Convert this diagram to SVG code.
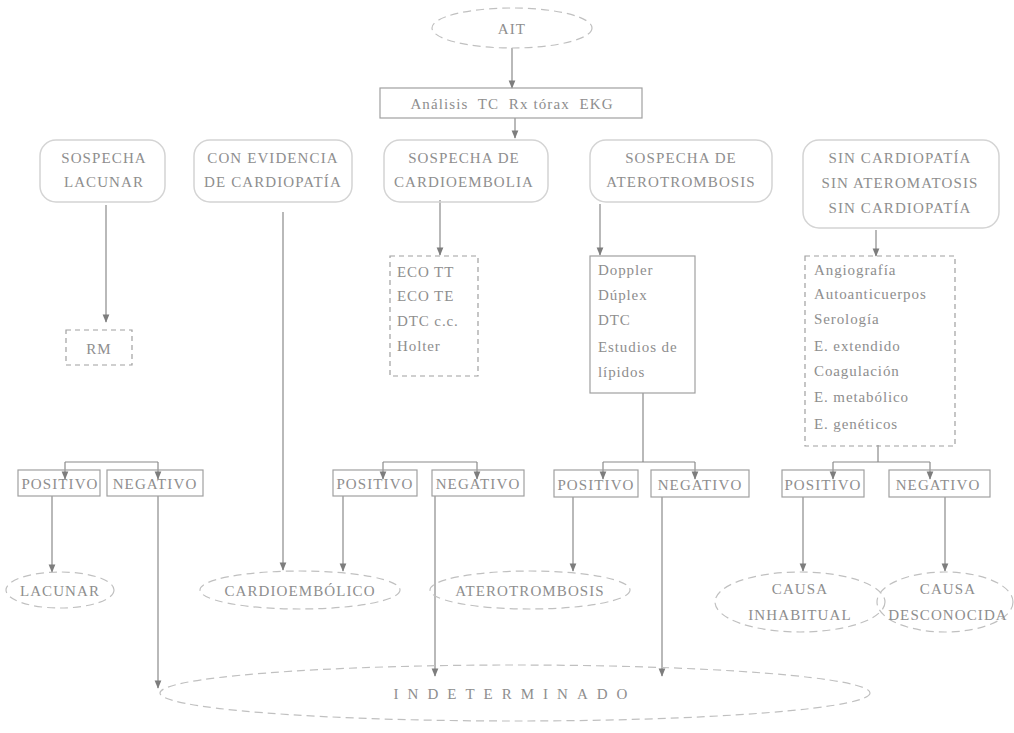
<svg xmlns="http://www.w3.org/2000/svg" width="1014" height="733" viewBox="0 0 1014 733">
  <defs>
    <marker id="arr" viewBox="0 0 10 10" refX="9" refY="5" markerWidth="7" markerHeight="7" orient="auto">
      <path d="M0,1 L10,5 L0,9 Z" fill="#7d7d7d"/>
    </marker>
    <style>
      text { font-family: "Liberation Serif", "Times New Roman", serif; fill: #8e8e8e; }
      .cap { font-size: 15px; letter-spacing: 1.1px; text-anchor: middle; }
      .lst { font-size: 15px; letter-spacing: 0.9px; }
      .box { fill: none; stroke: #a0a0a0; stroke-width: 1.2; }
      .dash { fill: none; stroke: #a0a0a0; stroke-width: 1.2; stroke-dasharray: 5 4; }
      .soft { fill: none; stroke: #d4d4d4; stroke-width: 1.5; }
      .oval { fill: none; stroke: #c0c0c0; stroke-width: 1.2; stroke-dasharray: 8 5; }
      .ln { fill: none; stroke: #8a8a8a; stroke-width: 1.2; }
      .arr { marker-end: url(#arr); }
    </style>
  </defs>
  <rect width="1014" height="733" fill="#ffffff"/>

  <!-- connectors -->
  <g id="connectors">
    <line class="ln arr" x1="512" y1="48" x2="512" y2="88"/>
    <line class="ln arr" x1="515" y1="118" x2="515" y2="138"/>
    <!-- lacunar column -->
    <line class="ln arr" x1="106" y1="205" x2="106" y2="322"/>
    <polyline class="ln" points="65,462 158,462"/>
    <line class="ln arr" x1="65" y1="462" x2="65" y2="479"/>
    <line class="ln arr" x1="158" y1="462" x2="158" y2="479"/>
    <line class="ln arr" x1="52" y1="496" x2="52" y2="572"/>
    <line class="ln arr" x1="158" y1="496" x2="158" y2="688"/>
    <!-- cardiopathy column -->
    <line class="ln arr" x1="283" y1="212" x2="283" y2="570"/>
    <!-- cardioembolism column -->
    <line class="ln arr" x1="440" y1="200" x2="440" y2="255"/>
    <polyline class="ln" points="383,462 477,462"/>
    <line class="ln arr" x1="383" y1="462" x2="383" y2="479"/>
    <line class="ln arr" x1="477" y1="462" x2="477" y2="479"/>
    <line class="ln arr" x1="343" y1="496" x2="343" y2="571"/>
    <line class="ln arr" x1="435" y1="496" x2="435" y2="676"/>
    <!-- atherothrombosis column -->
    <line class="ln arr" x1="600" y1="204" x2="600" y2="255"/>
    <polyline class="ln" points="643,393 643,462"/>
    <polyline class="ln" points="603,462 695,462"/>
    <line class="ln arr" x1="603" y1="462" x2="603" y2="479"/>
    <line class="ln arr" x1="695" y1="462" x2="695" y2="479"/>
    <line class="ln arr" x1="573" y1="497" x2="573" y2="571"/>
    <line class="ln arr" x1="662" y1="497" x2="662" y2="676"/>
    <!-- unusual-cause column -->
    <line class="ln arr" x1="876" y1="230" x2="876" y2="256"/>
    <polyline class="ln" points="878,445 878,462"/>
    <polyline class="ln" points="833,462 930,462"/>
    <line class="ln arr" x1="833" y1="462" x2="833" y2="479"/>
    <line class="ln arr" x1="930" y1="462" x2="930" y2="479"/>
    <line class="ln arr" x1="803" y1="497" x2="803" y2="571"/>
    <line class="ln arr" x1="945" y1="497" x2="945" y2="571"/>
  </g>

  <g id="ait">
    <ellipse class="oval" cx="512" cy="28" rx="80" ry="20"/>
    <text class="cap" x="512" y="34">AIT</text>
  </g>
  <g id="estudios">
    <rect class="box" x="380" y="88" width="262" height="30"/>
    <text class="cap" x="512" y="109" xml:space="preserve">Análisis  TC  Rx tórax  EKG</text>
  </g>

  <g id="sospecha-lacunar">
    <rect class="soft" x="40" y="140" width="125" height="62" rx="16"/>
    <text class="cap" x="104" y="163">SOSPECHA</text>
    <text class="cap" x="104" y="187">LACUNAR</text>
  </g>
  <g id="evidencia-cardiopatia">
    <rect class="soft" x="194" y="140" width="158" height="62" rx="16"/>
    <text class="cap" x="273" y="163">CON EVIDENCIA</text>
    <text class="cap" x="273" y="187">DE CARDIOPATÍA</text>
  </g>
  <g id="sospecha-cardioembolia">
    <rect class="soft" x="384" y="140" width="164" height="62" rx="16"/>
    <text class="cap" x="464" y="163">SOSPECHA DE</text>
    <text class="cap" x="464" y="187">CARDIOEMBOLIA</text>
  </g>
  <g id="sospecha-aterotrombosis">
    <rect class="soft" x="590" y="140" width="182" height="62" rx="16"/>
    <text class="cap" x="681" y="163">SOSPECHA DE</text>
    <text class="cap" x="681" y="187">ATEROTROMBOSIS</text>
  </g>
  <g id="sin-cardiopatia">
    <rect class="soft" x="803" y="140" width="196" height="88" rx="16"/>
    <text class="cap" x="900" y="163">SIN CARDIOPATÍA</text>
    <text class="cap" x="900" y="188">SIN ATEROMATOSIS</text>
    <text class="cap" x="900" y="213">SIN CARDIOPATÍA</text>
  </g>

  <g id="rm">
    <rect class="dash" x="66" y="330" width="66" height="35"/>
    <text class="cap" x="99" y="354">RM</text>
  </g>
  <g id="eco">
    <rect class="dash" x="390" y="256" width="88" height="120"/>
    <text class="lst" x="397" y="277">ECO TT</text>
    <text class="lst" x="397" y="301">ECO TE</text>
    <text class="lst" x="397" y="326">DTC c.c.</text>
    <text class="lst" x="397" y="351">Holter</text>
  </g>
  <g id="doppler">
    <rect class="box" x="590" y="256" width="105" height="137"/>
    <text class="lst" x="598" y="275">Doppler</text>
    <text class="lst" x="598" y="300">Dúplex</text>
    <text class="lst" x="598" y="325">DTC</text>
    <text class="lst" x="598" y="352">Estudios de</text>
    <text class="lst" x="598" y="377">lípidos</text>
  </g>
  <g id="angiografia">
    <rect class="dash" x="805" y="256" width="150" height="190"/>
    <text class="lst" x="814" y="275">Angiografía</text>
    <text class="lst" x="814" y="299">Autoanticuerpos</text>
    <text class="lst" x="814" y="324">Serología</text>
    <text class="lst" x="814" y="351">E. extendido</text>
    <text class="lst" x="814" y="376">Coagulación</text>
    <text class="lst" x="814" y="402">E. metabólico</text>
    <text class="lst" x="814" y="429">E. genéticos</text>
  </g>

  <g id="lac-positivo">
    <rect class="box" x="18" y="470" width="82" height="26"/>
    <text class="cap" x="60" y="489">POSITIVO</text>
  </g>
  <g id="lac-negativo">
    <rect class="box" x="107" y="470" width="96" height="26"/>
    <text class="cap" x="155" y="489">NEGATIVO</text>
  </g>
  <g id="card-positivo">
    <rect class="box" x="333" y="470" width="84" height="26"/>
    <text class="cap" x="375" y="489">POSITIVO</text>
  </g>
  <g id="card-negativo">
    <rect class="box" x="432" y="470" width="92" height="26"/>
    <text class="cap" x="478" y="489">NEGATIVO</text>
  </g>
  <g id="ater-positivo">
    <rect class="box" x="554" y="470" width="84" height="27"/>
    <text class="cap" x="596" y="490">POSITIVO</text>
  </g>
  <g id="ater-negativo">
    <rect class="box" x="651" y="470" width="98" height="27"/>
    <text class="cap" x="700" y="490">NEGATIVO</text>
  </g>
  <g id="inh-positivo">
    <rect class="box" x="782" y="470" width="82" height="27"/>
    <text class="cap" x="823" y="490">POSITIVO</text>
  </g>
  <g id="inh-negativo">
    <rect class="box" x="889" y="470" width="101" height="27"/>
    <text class="cap" x="938" y="490">NEGATIVO</text>
  </g>

  <g id="lacunar">
    <ellipse class="oval" cx="60" cy="590" rx="54" ry="18"/>
    <text class="cap" x="60" y="596">LACUNAR</text>
  </g>
  <g id="cardioembolico">
    <ellipse class="oval" cx="300" cy="590" rx="100" ry="19"/>
    <text class="cap" x="300" y="596">CARDIOEMBÓLICO</text>
  </g>
  <g id="aterotrombosis">
    <ellipse class="oval" cx="530" cy="590" rx="100" ry="19"/>
    <text class="cap" x="530" y="596">ATEROTROMBOSIS</text>
  </g>
  <g id="causa-inhabitual">
    <ellipse class="oval" cx="800" cy="602" rx="85" ry="30"/>
    <text class="cap" x="800" y="594">CAUSA</text>
    <text class="cap" x="800" y="620">INHABITUAL</text>
  </g>
  <g id="causa-desconocida">
    <ellipse class="oval" cx="945" cy="602" rx="68" ry="30"/>
    <text class="cap" x="948" y="594">CAUSA</text>
    <text class="cap" x="948" y="620">DESCONOCIDA</text>
  </g>
  <g id="indeterminado">
    <ellipse class="oval" cx="515" cy="693" rx="355" ry="28"/>
    <text class="cap" x="515" y="699" style="letter-spacing:9px">INDETERMINADO</text>
  </g>
</svg>
